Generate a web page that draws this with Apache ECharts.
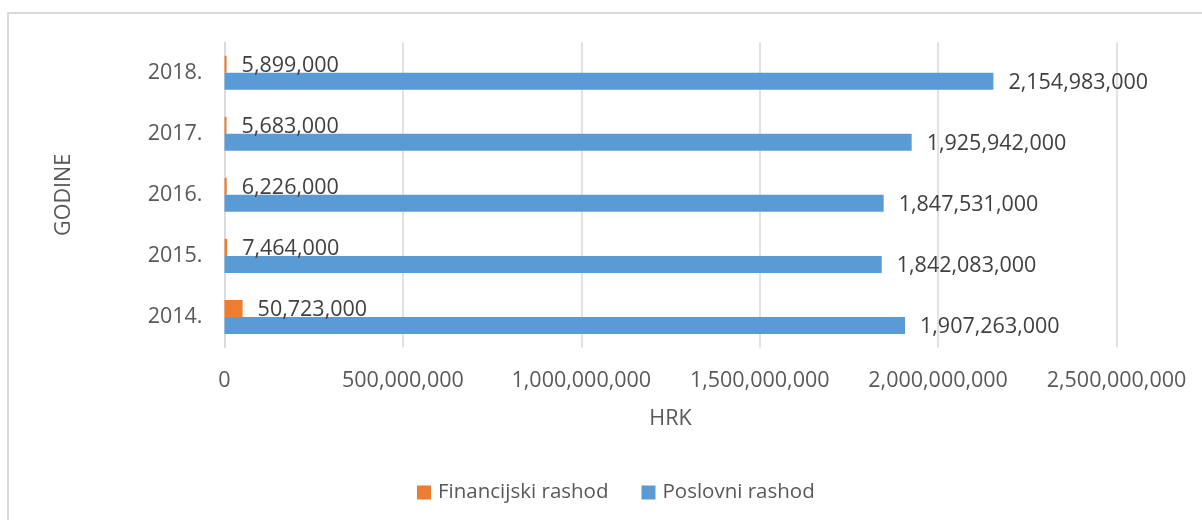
<!DOCTYPE html>
<html>
<head>
<meta charset="utf-8">
<script src="https://cdn.jsdelivr.net/npm/echarts@6/dist/echarts.min.js"></script>
<style>
html,body{margin:0;padding:0;background:#fff;}
#chart{width:1202px;height:520px;}
</style>
</head>
<body>
<div id="chart"></div>
<script>
const categories = ["2014.", "2015.", "2016.", "2017.", "2018."];
const financijski = [50723000, 7464000, 6226000, 5683000, 5899000];
const poslovni = [1907263000, 1842083000, 1847531000, 1925942000, 2154983000];
const seriesNames = ["Financijski rashod", "Poslovni rashod"];
const xTicks = { min: 0, max: 2500000000, interval: 500000000 };

const fmt = v => Number(v).toLocaleString('en-US');
const FONT = 'Open Sans';

const chart = echarts.init(document.getElementById('chart'), null, { renderer: 'canvas' });
chart.setOption({
  animation: false,
  backgroundColor: '#fff',
  textStyle: { fontFamily: FONT },
  graphic: [{
    type: 'rect',
    shape: { x: 8, y: 13, width: 1400, height: 700 },
    style: { fill: 'none', stroke: '#d9d9d9', lineWidth: 2 },
    silent: true
  }],
  grid: { left: 224.5, right: 85.5, top: 42.2, bottom: 172.5 },
  legend: {
    data: seriesNames,
    top: 477,
    left: 412,
    itemWidth: 14,
    itemHeight: 14,
    itemGap: 33,
    icon: 'rect',
    textStyle: { fontFamily: FONT, fontSize: 20.5, color: '#595959', padding: [0, 0, 0, 2] }
  },
  xAxis: {
    type: 'value',
    min: xTicks.min, max: xTicks.max, interval: xTicks.interval,
    name: 'HRK',
    nameLocation: 'middle',
    nameGap: 60,
    nameTextStyle: { fontFamily: FONT, fontSize: 21.5, color: '#595959' },
    axisLine: { show: false },
    axisTick: { show: false },
    axisLabel: { formatter: fmt, fontFamily: FONT, fontSize: 21.5, color: '#595959', margin: 22 },
    splitLine: { show: true, lineStyle: { color: '#d9d9d9', width: 1.5 } }
  },
  yAxis: {
    type: 'category',
    data: categories,
    name: 'GODINE',
    nameLocation: 'middle',
    nameRotate: 90,
    nameGap: 150,
    nameTextStyle: { fontFamily: FONT, fontSize: 21.5, color: '#595959' },
    axisLine: { show: true, lineStyle: { color: '#d9d9d9', width: 1.5 } },
    axisTick: { show: false },
    axisLabel: { fontFamily: FONT, fontSize: 21.5, color: '#595959', margin: 22 }
  },
  series: [
    {
      name: seriesNames[0],
      type: 'bar',
      data: financijski,
      barWidth: 17,
      barGap: '0%',
      itemStyle: { color: '#ed7d31' },
      label: { show: true, position: 'right', distance: 15, offset: [0, 1.5], formatter: p => fmt(p.value), fontFamily: FONT, fontSize: 21.5, color: '#404040' }
    },
    {
      name: seriesNames[1],
      type: 'bar',
      data: poslovni,
      barWidth: 17,
      barGap: '0%',
      itemStyle: { color: '#5b9bd5' },
      label: { show: true, position: 'right', distance: 15, offset: [0, 1.5], formatter: p => fmt(p.value), fontFamily: FONT, fontSize: 21.5, color: '#404040' }
    }
  ]
});
</script>
</body>
</html>
